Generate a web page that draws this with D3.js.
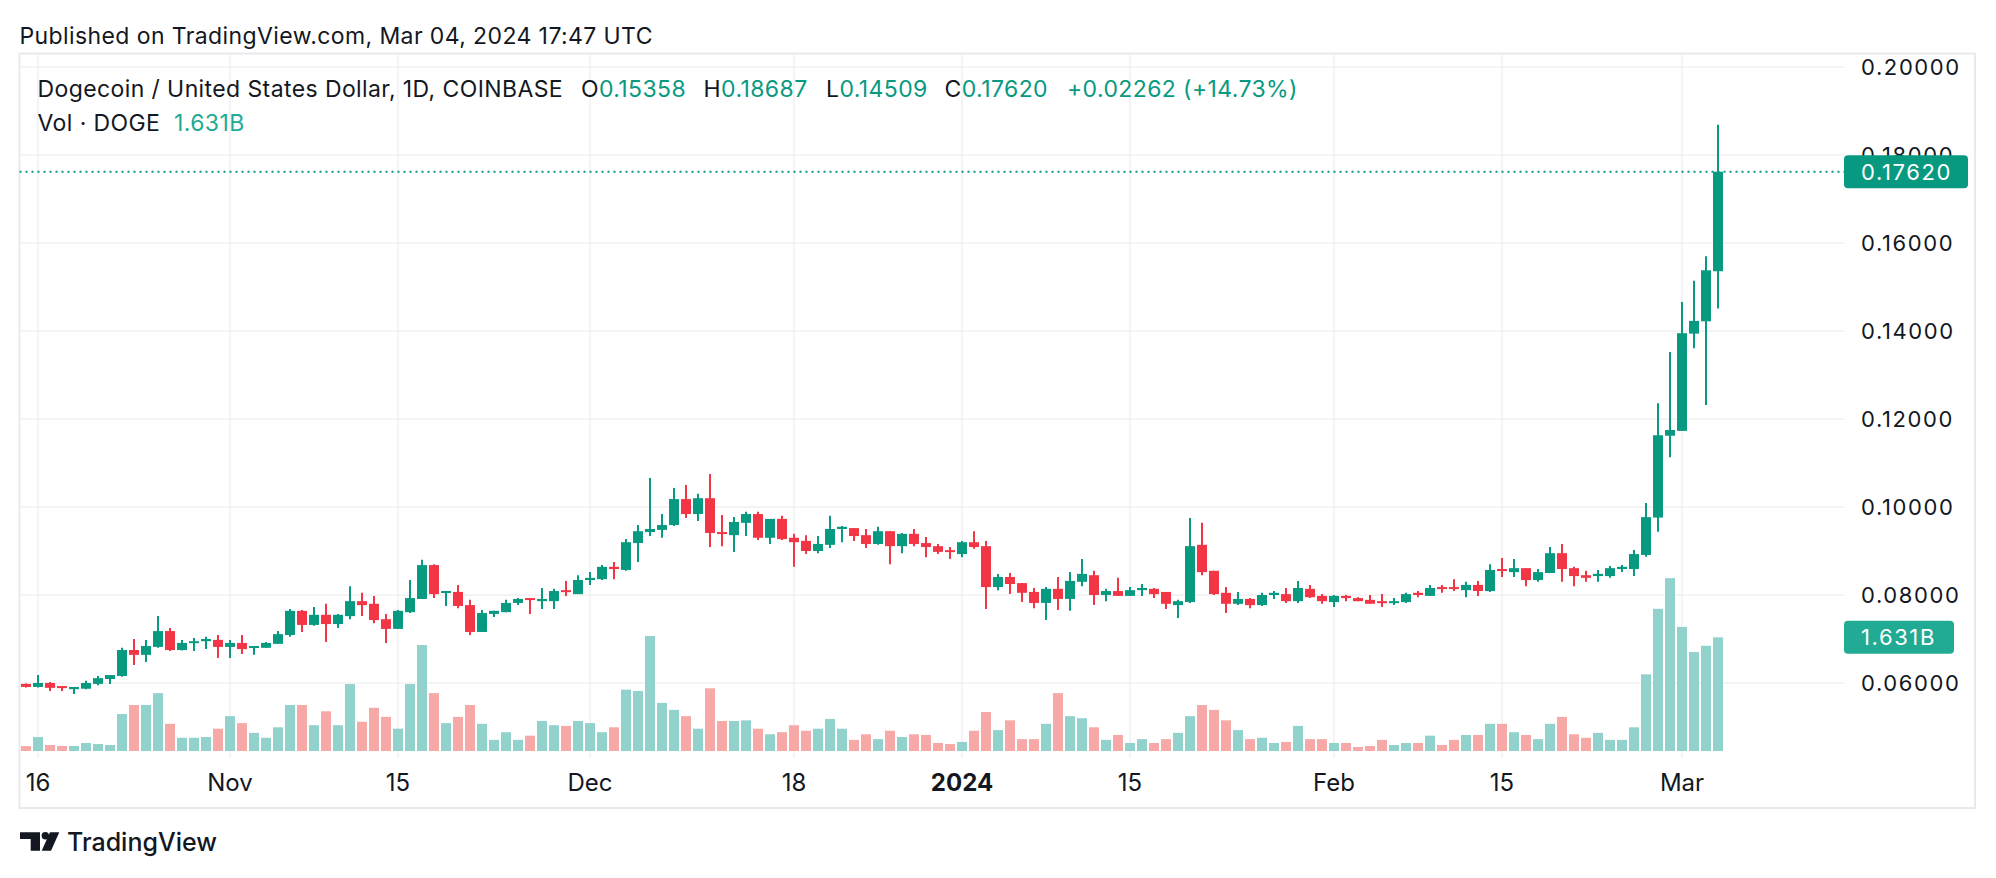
<!DOCTYPE html>
<html>
<head>
<meta charset="utf-8">
<script src="https://cdn.jsdelivr.net/npm/d3@7"></script>
<style>
  body { margin: 0; background: #fff; }
  svg  { display: block; font-family: Inter, "Noto Sans", sans-serif; }
</style>
</head>
<body>
<svg id="chart" width="1996" height="878"></svg>
<script>
// ── Data: DOGE/USD daily, Coinbase, Oct 15 2023 → Mar 4 2024 ──────────────
const firstDay = new Date(Date.UTC(2023, 9, 15));
const lastDay  = new Date(Date.UTC(2024, 2, 4));

const open = [
  // Oct 15-31
  0.0598,0.0591,0.0600,0.0593,0.0586,0.0587,0.0598,0.0609,0.0616,0.0675,0.0664,0.0682,0.0718,0.0675,0.0691,0.0695,0.0698,
  // Nov
  0.0682,0.0691,0.0680,0.0680,0.0689,0.0709,0.0764,0.0732,0.0755,0.0734,0.0752,0.0786,0.0780,0.0745,0.0723,
  0.0761,0.0791,0.0868,0.0805,0.0807,0.0777,0.0716,0.0757,0.0761,0.0782,0.0793,0.0786,0.0786,0.0811,0.0802,
  // Dec
  0.0834,0.0836,0.0864,0.0857,0.0918,0.0943,0.0948,0.0959,0.1018,0.0984,0.1020,0.0943,0.0936,0.0964,0.0984,0.0930,
  0.0973,0.0930,0.0923,0.0900,0.0914,0.0950,0.0952,0.0936,0.0916,0.0945,0.0911,0.0939,0.0918,0.0911,0.0902,
  // Jan
  0.0893,0.0920,0.0911,0.0818,0.0841,0.0827,0.0807,0.0782,0.0814,0.0791,0.0830,0.0845,0.0800,0.0809,0.0798,0.0811,
  0.0814,0.0807,0.0777,0.0784,0.0914,0.0855,0.0805,0.0780,0.0791,0.0777,0.0800,0.0802,0.0786,0.0814,0.0798,
  // Feb
  0.0784,0.0798,0.0793,0.0789,0.0786,0.0782,0.0784,0.0805,0.0798,0.0818,0.0818,0.0811,0.0823,0.0809,0.0859,
  0.0852,0.0861,0.0834,0.0850,0.0895,0.0861,0.0845,0.0843,0.0843,0.0859,0.0859,0.0891,0.0976,0.1162,
  // Mar 1-4
  0.1173,0.1394,0.1422,0.15358
];
const high = [
  0.0599,0.0618,0.0602,0.0593,0.0591,0.0605,0.0616,0.0618,0.0680,0.0700,0.0698,0.0752,0.0725,0.0698,0.0702,0.0705,0.0709,
  0.0698,0.0709,0.0684,0.0693,0.0718,0.0768,0.0766,0.0773,0.0780,0.0757,0.0820,0.0805,0.0798,0.0757,0.0766,
  0.0834,0.0880,0.0870,0.0809,0.0823,0.0789,0.0766,0.0764,0.0789,0.0793,0.0793,0.0816,0.0814,0.0832,0.0845,
  0.0852,0.0868,0.0875,0.0927,0.0959,0.1066,0.0984,0.1043,0.1050,0.1030,0.1075,0.0982,0.0977,0.0989,0.0989,0.0973,
  0.0980,0.0939,0.0936,0.0934,0.0980,0.0957,0.0952,0.0950,0.0955,0.0945,0.0941,0.0950,0.0932,0.0916,0.0909,
  0.0923,0.0945,0.0923,0.0848,0.0850,0.0827,0.0816,0.0818,0.0841,0.0852,0.0882,0.0855,0.0814,0.0839,0.0818,0.0825,
  0.0816,0.0807,0.0789,0.0975,0.0964,0.0855,0.0818,0.0807,0.0793,0.0805,0.0809,0.0816,0.0832,0.0823,0.0802,
  0.0800,0.0800,0.0795,0.0800,0.0802,0.0793,0.0805,0.0809,0.0823,0.0823,0.0836,0.0830,0.0832,0.0870,0.0884,
  0.0882,0.0861,0.0859,0.0909,0.0916,0.0864,0.0855,0.0857,0.0866,0.0868,0.0902,0.1009,0.1236,0.1352,
  0.1466,0.1514,0.1570,0.18687
];
const low = [
  0.0590,0.0590,0.0582,0.0582,0.0575,0.0586,0.0595,0.0598,0.0614,0.0641,0.0648,0.0680,0.0673,0.0674,0.0673,0.0677,0.0657,
  0.0657,0.0666,0.0664,0.0680,0.0689,0.0705,0.0716,0.0730,0.0693,0.0725,0.0745,0.0752,0.0736,0.0691,0.0723,
  0.0759,0.0791,0.0793,0.0775,0.0770,0.0709,0.0716,0.0750,0.0761,0.0777,0.0757,0.0768,0.0768,0.0798,0.0802,
  0.0823,0.0834,0.0836,0.0855,0.0875,0.0934,0.0930,0.0957,0.0975,0.0968,0.0909,0.0911,0.0898,0.0934,0.0925,0.0916,
  0.0925,0.0864,0.0893,0.0895,0.0907,0.0920,0.0923,0.0907,0.0914,0.0870,0.0895,0.0911,0.0886,0.0893,0.0882,
  0.0886,0.0905,0.0768,0.0811,0.0802,0.0784,0.0770,0.0743,0.0766,0.0764,0.0820,0.0777,0.0786,0.0798,0.0798,0.0798,
  0.0793,0.0768,0.0748,0.0782,0.0845,0.0800,0.0759,0.0777,0.0770,0.0775,0.0791,0.0782,0.0782,0.0793,0.0780,
  0.0773,0.0786,0.0786,0.0780,0.0773,0.0777,0.0782,0.0795,0.0798,0.0805,0.0809,0.0795,0.0798,0.0807,0.0841,
  0.0841,0.0820,0.0830,0.0850,0.0830,0.0820,0.0830,0.0830,0.0839,0.0852,0.0843,0.0887,0.0944,0.1113,
  0.1173,0.1361,0.1232,0.14509
];
const close = [
  0.0591,0.0600,0.0589,0.0589,0.0591,0.0600,0.0611,0.0618,0.0675,0.0664,0.0684,0.0718,0.0675,0.0691,0.0695,0.0700,0.0682,
  0.0691,0.0677,0.0684,0.0691,0.0711,0.0764,0.0732,0.0755,0.0734,0.0755,0.0786,0.0777,0.0743,0.0723,0.0764,
  0.0793,0.0868,0.0802,0.0809,0.0775,0.0716,0.0759,0.0764,0.0782,0.0791,0.0789,0.0791,0.0809,0.0807,0.0834,
  0.0839,0.0864,0.0859,0.0920,0.0945,0.0950,0.0959,0.1018,0.0984,0.1020,0.0941,0.0939,0.0966,0.0984,0.0930,0.0973,
  0.0927,0.0920,0.0900,0.0916,0.0950,0.0955,0.0934,0.0916,0.0945,0.0911,0.0939,0.0916,0.0909,0.0898,0.0898,
  0.0920,0.0909,0.0818,0.0841,0.0825,0.0805,0.0782,0.0814,0.0791,0.0832,0.0848,0.0800,0.0809,0.0798,0.0811,0.0816,
  0.0802,0.0780,0.0786,0.0911,0.0852,0.0802,0.0780,0.0791,0.0777,0.0800,0.0805,0.0786,0.0816,0.0795,0.0786,
  0.0798,0.0793,0.0786,0.0780,0.0782,0.0786,0.0802,0.0800,0.0816,0.0814,0.0814,0.0823,0.0809,0.0857,0.0855,
  0.0861,0.0834,0.0852,0.0895,0.0859,0.0843,0.0839,0.0848,0.0861,0.0864,0.0893,0.0977,0.1163,0.1175,
  0.1395,0.1423,0.1538,0.17620
];
// volume in billions of DOGE
const volume = [
  0.07,0.20,0.086,0.072,0.072,0.115,0.10,0.086,0.53,0.66,0.66,0.83,0.39,0.19,0.19,0.20,0.32,
  0.50,0.40,0.26,0.19,0.34,0.66,0.66,0.37,0.57,0.37,0.96,0.42,0.62,0.49,0.32,
  0.96,1.52,0.83,0.40,0.49,0.66,0.39,0.16,0.27,0.16,0.22,0.43,0.37,0.36,0.43,
  0.40,0.27,0.34,0.88,0.86,1.65,0.69,0.59,0.50,0.32,0.90,0.43,0.43,0.44,0.32,0.24,
  0.27,0.37,0.29,0.32,0.46,0.32,0.16,0.24,0.17,0.29,0.20,0.24,0.23,0.115,0.10,
  0.13,0.29,0.56,0.30,0.44,0.17,0.17,0.39,0.83,0.50,0.47,0.34,0.16,0.23,0.115,0.17,
  0.115,0.17,0.26,0.50,0.66,0.59,0.44,0.30,0.17,0.19,0.115,0.13,0.36,0.17,0.17,
  0.115,0.115,0.057,0.072,0.16,0.086,0.115,0.115,0.22,0.086,0.16,0.23,0.23,0.39,0.39,
  0.27,0.23,0.17,0.39,0.49,0.24,0.19,0.26,0.16,0.16,0.34,1.10,2.04,2.48,
  1.78,1.42,1.51,1.631
];

const priceTicks = [0.06, 0.08, 0.10, 0.12, 0.14, 0.16, 0.18, 0.20];
const timeTicks = [
  ['2023-10-16', '16'], ['2023-11-01', 'Nov'], ['2023-11-15', '15'], ['2023-12-01', 'Dec'],
  ['2023-12-18', '18'], ['2024-01-01', '2024'], ['2024-01-15', '15'], ['2024-02-01', 'Feb'],
  ['2024-02-15', '15'], ['2024-03-01', 'Mar']
];
const legend = [
  ['O', '0.15358'], ['H', '0.18687'], ['L', '0.14509'], ['C', '0.17620']
];

// ── Styles ────────────────────────────────────────────────────────────────
const UP = '#089981', DOWN = '#f23645';
const VOL_UP = '#92d2cc', VOL_DOWN = '#f7a9a7';
const TEXT = '#131722', GRID = '#f0f0f2', FRAME = '#e9e9ef';

const svg = d3.select('#chart');
const pane = { left: 19.5, top: 53.5, right: 1975, bottom: 808, plotRight: 1844, plotBottom: 758 };

// ── Scales ────────────────────────────────────────────────────────────────
const days = d3.utcDay.range(firstDay, d3.utcDay.offset(lastDay, 1));
const bars = days.map((d, i) => ({
  date: d, o: open[i], h: high[i], l: low[i], c: close[i], v: volume[i]
}));

const x    = d3.scaleUtc().domain([firstDay, lastDay]).range([26, 1718]);
const y    = d3.scaleLinear().domain([0.06, 0.20]).range([683, 67]);
const yVol = d3.scaleLinear().domain([0, 2.5]).range([751, 751 - 2.5 * 69.7]);
const parse = d3.utcParse('%Y-%m-%d');
const BODY_W = 10;

// ── Frame & grid ──────────────────────────────────────────────────────────
svg.append('rect')
  .attr('x', pane.left).attr('y', pane.top)
  .attr('width', pane.right - pane.left).attr('height', pane.bottom - pane.top)
  .attr('fill', 'none').attr('stroke', FRAME).attr('stroke-width', 2);

const grid = svg.append('g');
grid.selectAll('line.h').data(priceTicks).join('line')
  .attr('class', 'h')
  .attr('x1', pane.left).attr('x2', pane.plotRight)
  .attr('y1', d => y(d)).attr('y2', d => y(d))
  .attr('stroke', GRID).attr('stroke-width', 1.5);
grid.selectAll('line.v').data(timeTicks).join('line')
  .attr('class', 'v')
  .attr('x1', d => x(parse(d[0]))).attr('x2', d => x(parse(d[0])))
  .attr('y1', pane.top).attr('y2', pane.plotBottom)
  .attr('stroke', GRID).attr('stroke-width', 1.5);

// ── Volume ────────────────────────────────────────────────────────────────
svg.append('g').selectAll('rect').data(bars).join('rect')
  .attr('x', d => x(d.date) - BODY_W / 2)
  .attr('width', BODY_W)
  .attr('y', d => yVol(d.v))
  .attr('height', d => yVol(0) - yVol(d.v))
  .attr('fill', d => d.c >= d.o ? VOL_UP : VOL_DOWN);

// ── Last price line ───────────────────────────────────────────────────────
const last = bars[bars.length - 1];
svg.append('line')
  .attr('x1', pane.left).attr('x2', pane.plotRight)
  .attr('y1', y(last.c)).attr('y2', y(last.c))
  .attr('stroke', UP).attr('stroke-width', 2).attr('stroke-dasharray', '2 4');

// ── Candles ───────────────────────────────────────────────────────────────
const candles = svg.append('g').selectAll('g').data(bars).join('g')
  .attr('fill', d => d.c >= d.o ? UP : DOWN)
  .attr('stroke', d => d.c >= d.o ? UP : DOWN);
candles.append('line')
  .attr('x1', d => x(d.date)).attr('x2', d => x(d.date))
  .attr('y1', d => y(d.h)).attr('y2', d => y(d.l))
  .attr('stroke-width', 2);
candles.append('rect')
  .attr('stroke', 'none')
  .attr('x', d => x(d.date) - BODY_W / 2)
  .attr('width', BODY_W)
  .attr('y', d => y(Math.max(d.o, d.c)))
  .attr('height', d => Math.max(2, Math.abs(y(d.o) - y(d.c))));

// ── Axes labels ───────────────────────────────────────────────────────────
svg.append('g').selectAll('text').data(priceTicks).join('text')
  .attr('x', 1861).attr('y', d => y(d)).attr('dy', '0.36em')
  .attr('font-size', 22).attr('letter-spacing', 1.6).attr('fill', TEXT)
  .text(d => d3.format('.5f')(d));

svg.append('g').selectAll('text').data(timeTicks).join('text')
  .attr('x', d => x(parse(d[0]))).attr('y', 791)
  .attr('text-anchor', 'middle')
  .attr('font-size', 24)
  .attr('font-weight', d => d[1] === '2024' ? 700 : 400)
  .attr('fill', TEXT)
  .text(d => d[1]);

// price & volume badges
function badge(yc, w, color, label) {
  svg.append('rect')
    .attr('x', 1844).attr('y', yc - 16.5).attr('width', w).attr('height', 33)
    .attr('rx', 4).attr('fill', color);
  svg.append('text')
    .attr('x', 1861).attr('y', yc).attr('dy', '0.36em')
    .attr('font-size', 22).attr('letter-spacing', 1.6).attr('fill', '#fff')
    .text(label);
}
badge(y(last.c), 124, UP, d3.format('.5f')(last.c));
badge(yVol(last.v), 110, '#22ab94', d3.format('.3f')(last.v) + 'B');

// ── Header ────────────────────────────────────────────────────────────────
const HEAD = { size: 23, spacing: 0.4 };
svg.append('text')
  .attr('x', 19.5).attr('y', 43.5).attr('font-size', 23).attr('letter-spacing', 0.4)
  .attr('fill', TEXT)
  .text('Published on TradingView.com, Mar 04, 2024 17:47 UTC');

svg.append('text')
  .attr('x', 37.5).attr('y', 97).attr('font-size', HEAD.size).attr('letter-spacing', HEAD.spacing)
  .attr('fill', TEXT)
  .text('Dogecoin / United States Dollar, 1D, COINBASE');

const legendX = [581, 703.6, 826, 944.6];
legend.forEach(([k, v], i) => {
  const t = svg.append('text')
    .attr('x', legendX[i]).attr('y', 97)
    .attr('font-size', HEAD.size).attr('letter-spacing', HEAD.spacing);
  t.append('tspan').attr('fill', TEXT).text(k);
  t.append('tspan').attr('fill', UP).text(v);
});
const chg = last.c - last.o;
svg.append('text')
  .attr('x', 1067).attr('y', 97)
  .attr('font-size', HEAD.size).attr('letter-spacing', HEAD.spacing).attr('fill', UP)
  .text(`+${d3.format('.5f')(chg)} (+${d3.format('.2f')(chg / last.o * 100)}%)`);

svg.append('text')
  .attr('x', 37.5).attr('y', 131)
  .attr('font-size', HEAD.size).attr('letter-spacing', HEAD.spacing).attr('fill', TEXT)
  .text('Vol · DOGE');
svg.append('text')
  .attr('x', 174).attr('y', 131)
  .attr('font-size', HEAD.size).attr('letter-spacing', HEAD.spacing).attr('fill', '#22ab94')
  .text(d3.format('.3f')(last.v) + 'B');

// ── Logo ──────────────────────────────────────────────────────────────────
const logo = svg.append('g').attr('fill', TEXT);
logo.append('path').attr('d', 'M20 832.3H40V850.7H30.7V839H20Z');
logo.append('circle').attr('cx', 45.3).attr('cy', 835.7).attr('r', 3.7);
logo.append('path').attr('d', 'M50 832.3H59.3L51 850.7H41.7Z');
svg.append('text')
  .attr('x', 67).attr('y', 851).attr('font-size', 25).attr('font-weight', 500)
  .attr('fill', TEXT).text('TradingView');
</script>
</body>
</html>
